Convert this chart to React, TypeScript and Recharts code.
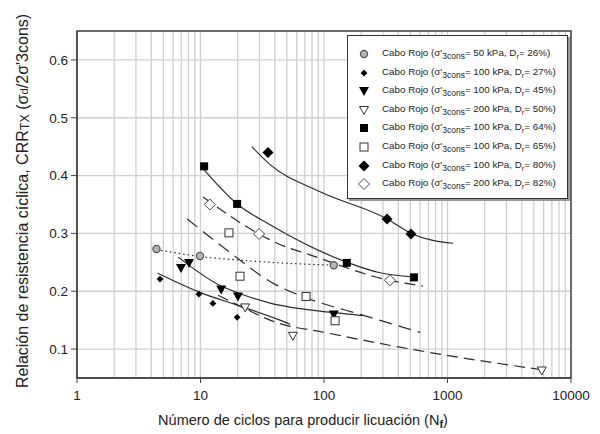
import React from 'react';
import {
  ComposedChart, Line, Scatter, XAxis, YAxis, CartesianGrid, ReferenceArea,
} from 'recharts';

// measured test points (N cycles, CRR)
const S1_26 = [{ n: 4.4, y: 0.273 }, { n: 9.9, y: 0.261 }, { n: 120, y: 0.245 }];
const S2_27 = [{ n: 4.7, y: 0.221 }, { n: 9.7, y: 0.195 }, { n: 12.6, y: 0.179 }, { n: 19.8, y: 0.155 }];
const S3_45 = [{ n: 6.95, y: 0.24 }, { n: 8.07, y: 0.249 }, { n: 14.7, y: 0.203 }, { n: 20.1, y: 0.191 }, { n: 120, y: 0.16 }];
const S4_50 = [{ n: 23, y: 0.172 }, { n: 56, y: 0.123 }, { n: 5800, y: 0.063 }];
const S5_64 = [{ n: 10.7, y: 0.416 }, { n: 19.8, y: 0.351 }, { n: 153, y: 0.249 }, { n: 535, y: 0.224 }];
const S6_65 = [{ n: 17, y: 0.301 }, { n: 20.9, y: 0.226 }, { n: 71.5, y: 0.191 }, { n: 123, y: 0.149 }];
const S7_80 = [{ n: 35.2, y: 0.44 }, { n: 324, y: 0.325 }, { n: 506, y: 0.299 }];
const S8_82 = [{ n: 11.9, y: 0.35 }, { n: 29.8, y: 0.299 }, { n: 342, y: 0.219 }];

// trend curves
const F1_26 = [{ n: 4.4, y: 0.272 }, { n: 10, y: 0.26 }, { n: 20, y: 0.254 }, { n: 44, y: 0.249 }, { n: 120, y: 0.245 }];
const F2_27 = [{ n: 4.5, y: 0.231 }, { n: 9.9, y: 0.198 }, { n: 19.8, y: 0.176 }, { n: 44, y: 0.15 }, { n: 53, y: 0.143 }];
const F3_45 = [{ n: 6.6, y: 0.259 }, { n: 14.7, y: 0.209 }, { n: 20.2, y: 0.197 }, { n: 36, y: 0.18 }, { n: 121, y: 0.163 }, { n: 205, y: 0.158 }];
const F4_50 = [{ n: 13.9, y: 0.193 }, { n: 23, y: 0.17 }, { n: 36.6, y: 0.15 }, { n: 112, y: 0.127 }, { n: 725, y: 0.094 }, { n: 6400, y: 0.063 }];
const F5_64 = [{ n: 10.1, y: 0.416 }, { n: 19.8, y: 0.351 }, { n: 36.6, y: 0.315 }, { n: 154, y: 0.25 }, { n: 285, y: 0.232 }, { n: 526, y: 0.225 }];
const F6_65 = [{ n: 7.8, y: 0.325 }, { n: 16.4, y: 0.271 }, { n: 38.7, y: 0.214 }, { n: 73, y: 0.188 }, { n: 196, y: 0.16 }, { n: 600, y: 0.129 }];
const F7_80 = [{ n: 26, y: 0.45 }, { n: 36.6, y: 0.419 }, { n: 93, y: 0.372 }, { n: 325, y: 0.325 }, { n: 519, y: 0.299 }, { n: 1110, y: 0.283 }];
const F8_82 = [{ n: 10.5, y: 0.363 }, { n: 29.8, y: 0.299 }, { n: 41.7, y: 0.283 }, { n: 77, y: 0.263 }, { n: 336, y: 0.219 }, { n: 633, y: 0.209 }];

const PRESSURES = [50, 100, 100, 200, 100, 100, 100, 200];
const DENSITIES = [26, 27, 45, 50, 64, 65, 80, 82];
const MARKERS = ['circle', 'smallDiamond', 'downTri', 'downTriOpen', 'square', 'squareOpen', 'diamond', 'diamondOpen'];

const X_TICKS = [1, 10, 100, 1000, 10000];
const Y_TICKS = [0.1, 0.2, 0.3, 0.4, 0.5, 0.6];
const GRID_X = [1, 10, 100, 1000].flatMap(d => [2, 3, 4, 5, 6, 7, 8, 9, 10].map(m => m * d));

const LINE = '#2b2b2b';
const FONT = '"Liberation Sans", Arial, sans-serif';

function Marker({ kind, cx, cy }: { kind: string; cx: number; cy: number }) {
  switch (kind) {
    case 'circle':
      return <circle cx={cx} cy={cy} r={3.6} fill="#b4b4b4" stroke="#555" strokeWidth={1.2} />;
    case 'smallDiamond':
      return <polygon points={`${cx},${cy - 3.4} ${cx + 3.4},${cy} ${cx},${cy + 3.4} ${cx - 3.4},${cy}`} fill="#000" />;
    case 'downTri':
      return <polygon points={`${cx - 5},${cy - 4} ${cx + 5},${cy - 4} ${cx},${cy + 5}`} fill="#000" />;
    case 'downTriOpen':
      return <polygon points={`${cx - 4.5},${cy - 3.5} ${cx + 4.5},${cy - 3.5} ${cx},${cy + 4.5}`} fill="#fff" stroke="#333" strokeWidth={1} />;
    case 'square':
      return <rect x={cx - 4} y={cy - 4} width={8} height={8} fill="#000" />;
    case 'squareOpen':
      return <rect x={cx - 4} y={cy - 4} width={8} height={8} fill="#fff" stroke="#333" strokeWidth={1} />;
    case 'diamond':
      return <polygon points={`${cx},${cy - 5.5} ${cx + 5.5},${cy} ${cx},${cy + 5.5} ${cx - 5.5},${cy}`} fill="#000" />;
    default:
      return <polygon points={`${cx},${cy - 5.5} ${cx + 5.5},${cy} ${cx},${cy + 5.5} ${cx - 5.5},${cy}`} fill="#fff" stroke="#444" strokeWidth={1} />;
  }
}

const shape = (kind: string) => (p: any) => <Marker kind={kind} cx={p.cx} cy={p.cy} />;

function YTitle() {
  return (
    <text x={22} y={201} transform="rotate(-90, 22, 201)" textAnchor="middle" dominantBaseline="central"
      fontFamily={FONT} fontSize={16} fill="#222">
      Relación de resistencia cíclica, CRR<tspan dy={3} fontSize={12.5}>TX</tspan>
      <tspan dy={-3}> (σ</tspan><tspan dy={2} fontSize={11.5}>d</tspan><tspan dy={-2}>/2σ'3cons)</tspan>
    </text>
  );
}

function XTitle() {
  return (
    <text x={303} y={425} textAnchor="middle" fontFamily={FONT} fontSize={14.5} fill="#222">
      Número de ciclos para producir licuación (N<tspan dy={3} fontSize={11} fontWeight="bold">f</tspan><tspan dy={-3}>)</tspan>
    </text>
  );
}

function LegendBox() {
  return (
    <div style={{
      position: 'absolute', left: 347, top: 35, width: 219, height: 162, background: '#fff',
      border: '1px solid #333', boxShadow: '2px 2px 0 #999', fontFamily: FONT, fontSize: 9.8, color: '#222',
    }}>
      {MARKERS.map((m, i) => (
        <div key={m} style={{ position: 'absolute', left: 0, top: 9 + i * 18.6, height: 18, display: 'flex', alignItems: 'center' }}>
          <svg width={32} height={18}><Marker kind={m} cx={16} cy={9} /></svg>
          <span style={{ marginLeft: 2, whiteSpace: 'nowrap' }}>
            Cabo Rojo (σ'<sub style={{ fontSize: 8.5 }}>3cons</sub>= {PRESSURES[i]} kPa, D<sub style={{ fontSize: 7.5 }}>r</sub>= {DENSITIES[i]}%)
          </span>
        </div>
      ))}
    </div>
  );
}

const gridX = (args: any) => {
  const ax = args.xAxis;
  if (ax && typeof ax.scale === 'function') return GRID_X.map(v => ax.scale(v));
  const o = args.offset;
  return GRID_X.map(v => o.left + (o.width * Math.log10(v)) / 4);
};

export default function App() {
  const fits = [
    { d: F1_26, dash: '1.5 3' }, { d: F2_27, dash: undefined }, { d: F3_45, dash: undefined },
    { d: F4_50, dash: '11 6' }, { d: F5_64, dash: undefined }, { d: F6_65, dash: '13 7' },
    { d: F7_80, dash: undefined }, { d: F8_82, dash: '11 6' },
  ];
  const pts = [S1_26, S2_27, S3_45, S4_50, S5_64, S6_65, S7_80, S8_82];
  return (
    <div style={{ position: 'absolute', left: 0, top: 0, width: 600, height: 434, background: '#fff' }}>
      <ComposedChart width={600} height={434} margin={{ top: 31, right: 29, bottom: 26, left: 0 }}>
        <CartesianGrid stroke="#cfcfcf" strokeWidth={1.3} verticalCoordinatesGenerator={gridX} />
        <XAxis dataKey="n" type="number" scale="log" domain={[1, 10000]} ticks={X_TICKS} allowDataOverflow height={30}
          tick={{ fontSize: 13.5, fill: '#222', fontFamily: FONT }} tickSize={5} tickMargin={7}
          axisLine={{ stroke: '#444', strokeWidth: 1.5 }} tickLine={{ stroke: '#444' }}
          label={<XTitle />} />
        <YAxis dataKey="y" type="number" domain={[0.05, 0.65]} ticks={Y_TICKS} allowDataOverflow width={77}
          tickFormatter={(v: number) => v.toFixed(1)}
          tick={{ fontSize: 13.5, fill: '#222', fontFamily: FONT }} tickSize={6} tickMargin={3}
          axisLine={{ stroke: '#444', strokeWidth: 1.5 }} tickLine={{ stroke: '#444' }}
          label={<YTitle />} />
        <ReferenceArea x1={1} x2={10000} y1={0.05} y2={0.65} fill="none" stroke="#444" strokeWidth={1.5} ifOverflow="visible" />
        {fits.map((f, i) => (
          <Line key={'f' + i} data={f.d} dataKey="y" type="monotone" stroke={LINE} strokeWidth={1.2}
            strokeDasharray={f.dash} dot={false} activeDot={false} isAnimationActive={false} />
        ))}
        {pts.map((p, i) => (
          <Scatter key={'s' + i} data={p} dataKey="y" shape={shape(MARKERS[i])} isAnimationActive={false} />
        ))}
      </ComposedChart>
      <LegendBox />
    </div>
  );
}
